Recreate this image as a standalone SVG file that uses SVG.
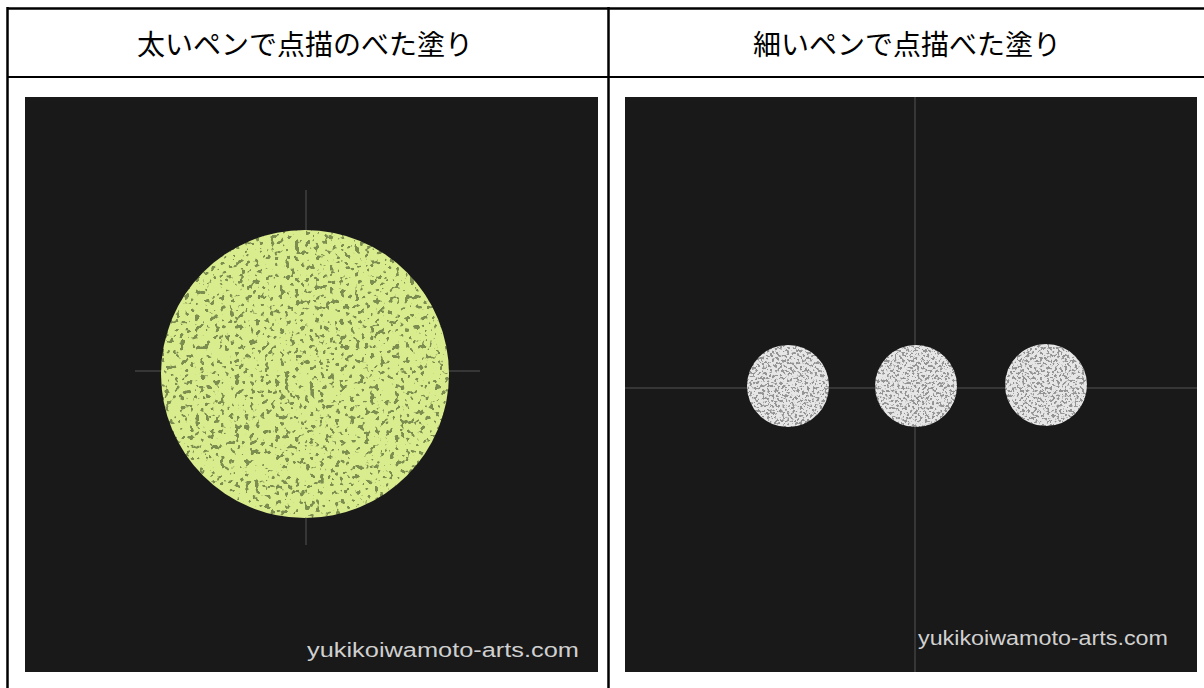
<svg xmlns="http://www.w3.org/2000/svg" width="1204" height="688" viewBox="0 0 1204 688">
<style>
.hdr{font-family:"Noto Sans CJK JP","Noto Sans",sans-serif;font-size:28px;font-weight:400;fill:#000;text-anchor:middle;dominant-baseline:central}
.wm{font-family:"Liberation Sans",Arial,sans-serif;font-size:20px;fill:#d0d0d0}
.grid{stroke:#000;fill:none}
.photo{fill:#191919}
.cross{stroke:#8a8a8a;stroke-opacity:0.35;stroke-width:1.5}
</style>
<defs>
<radialGradient id="bgL" cx="0.5" cy="0.45" r="0.7">
<stop offset="0" stop-color="#1c1c1c"/><stop offset="1" stop-color="#141414"/>
</radialGradient>
<filter id="speckY" x="0" y="0" width="100%" height="100%">
<feTurbulence type="fractalNoise" baseFrequency="0.2" numOctaves="2" seed="4" result="n"/>
<feColorMatrix in="n" type="matrix" values="0 0 0 0 0.2  0 0 0 0 0.27  0 0 0 0 0.08  -16 0 0 0 6.6" result="spots"/>
<feComposite in="spots" in2="SourceGraphic" operator="atop"/>
</filter>
<filter id="speckW" x="0" y="0" width="100%" height="100%">
<feTurbulence type="fractalNoise" baseFrequency="0.4" numOctaves="2" seed="7" result="n"/>
<feColorMatrix in="n" type="matrix" values="0 0 0 0 0.3  0 0 0 0 0.3  0 0 0 0 0.3  -12 0 0 0 5.8" result="spots"/>
<feComposite in="spots" in2="SourceGraphic" operator="atop"/>
</filter>
</defs>

<g id="table">
<line class="grid" x1="7" y1="8.5" x2="1204" y2="8.5" stroke-width="2.5"/>
<line class="grid" x1="7" y1="77" x2="1204" y2="77" stroke-width="2" stroke="#222"/>
<line class="grid" x1="7.5" y1="7" x2="7.5" y2="688" stroke-width="2.5"/>
<line class="grid" x1="608.5" y1="7" x2="608.5" y2="688" stroke-width="2.5"/>
</g>

<g id="header-left">
<text class="hdr" x="305" y="43">太いペンで点描のべた塗り</text>
</g>
<g id="header-right">
<text class="hdr" x="907" y="43">細いペンで点描べた塗り</text>
</g>

<g id="photo-left">
<rect class="photo" x="25" y="97" width="573" height="575" fill="url(#bgL)"/>
<line class="cross" x1="306" y1="190" x2="306" y2="545"/>
<line class="cross" x1="135" y1="371" x2="480" y2="371"/>
<circle cx="305" cy="374" r="144" fill="#d9ec8e" filter="url(#speckY)"/>
<text class="wm" x="307" y="657" textLength="272" lengthAdjust="spacingAndGlyphs">yukikoiwamoto-arts.com</text>
</g>

<g id="photo-right">
<rect class="photo" x="625" y="97" width="572" height="575"/>
<line class="cross" x1="915" y1="97" x2="915" y2="672"/>
<line class="cross" x1="625" y1="388" x2="1197" y2="388"/>
<circle cx="788" cy="386" r="41" fill="#e6e6e6" filter="url(#speckW)"/>
<circle cx="916" cy="386" r="41" fill="#e6e6e6" filter="url(#speckW)"/>
<circle cx="1046" cy="385" r="41" fill="#e6e6e6" filter="url(#speckW)"/>
<text class="wm" x="918" y="645" textLength="250" lengthAdjust="spacingAndGlyphs">yukikoiwamoto-arts.com</text>
</g>
</svg>
